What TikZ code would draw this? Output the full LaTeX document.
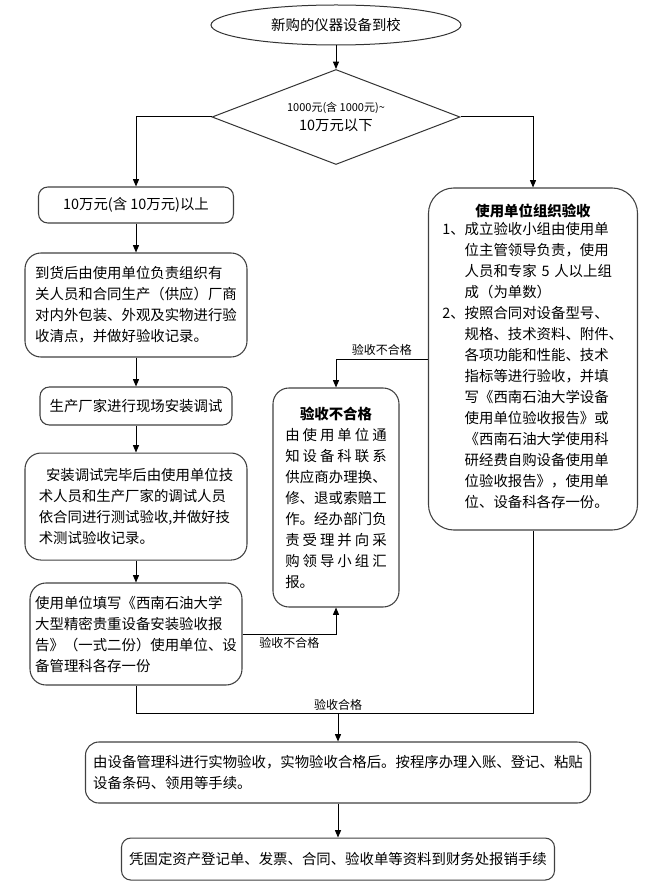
\documentclass[tikz,border=0pt]{standalone}
\usepackage{fontspec}
\newfontfamily\cjk{Noto Sans CJK SC}
\usetikzlibrary{shapes.geometric, positioning, arrows.meta}

\begin{document}
\begin{tikzpicture}[
    x=0.75pt, y=-0.75pt,
    on grid,
    font=\cjk\fontsize{10.8}{15.75}\selectfont,
    box/.style={draw=black!75, line width=0.8pt, rounded corners=7pt, inner sep=0pt, align=left},
    bigbox/.style={box, rounded corners=12pt},
    tag/.style={font=\cjk\fontsize{9}{11}\selectfont, inner sep=2pt},
    flow/.style={line width=0.75pt, -{Triangle[length=5.5pt, width=4.5pt]}},
    link/.style={line width=0.75pt}
]
    \useasboundingbox (0,0) rectangle (669,891);

    % Start and decision
    \node[draw=black!80, line width=0.75pt, ellipse, minimum width=187.5pt, minimum height=30pt, inner sep=0pt] (arrive) at (336,25) {新购的仪器设备到校};
    \node[draw=black!80, line width=0.75pt, diamond, aspect=2.6, minimum width=186pt, minimum height=71.25pt, inner sep=0pt, align=center] (price) at (336,117)
        {{\fontsize{8.25}{12}\selectfont 1000元(含 1000元)\textasciitilde}\\[-1pt]10万元以下};

    % Left column: 10 万元以上
    \node[box, minimum width=146.25pt, minimum height=27pt] (large) at (136,205) {10万元(含 10万元)以上};
    \node[bigbox, minimum width=166.5pt, minimum height=78pt] (unpack) [below=75pt of large]
        {到货后由使用单位负责组织有\\关人员和合同生产（供应）厂商\\对内外包装、外观及实物进行验\\收清点，并做好验收记录。};
    \node[box, minimum width=144pt, minimum height=28.5pt] (install) [below=75.75pt of unpack] {生产厂家进行现场安装调试};
    \node[bigbox, minimum width=166.5pt, minimum height=80.25pt] (test) [below=75.4pt of install]
        {\hspace*{0.5em}安装调试完毕后由使用单位技\\术人员和生产厂家的调试人员\\依合同进行测试验收,并做好技\\术测试验收记录。};
    \node[bigbox, minimum width=159pt, minimum height=76.5pt] (report) [below=95.6pt of test]
        {使用单位填写《西南石油大学\\大型精密贵重设备安装验收报\\告》（一式二份）使用单位、设\\备管理科各存一份};

    % Right column: 使用单位组织验收
    \node[box, rounded corners=19pt, minimum width=156.75pt, minimum height=256.5pt, text width=136pt] (org) at (533,359) {%
        {\centering\bfseries 使用单位组织验收\par}%
        \noindent\begin{tabular}{@{}l@{}l@{}}
        1、& 成立验收小组由使用单\\
           & 位主管领导负责，使用\\
           & 人员和专家 5 人以上组\\
           & 成（为单数）\\
        2、& 按照合同对设备型号、\\
           & 规格、技术资料、附件、\\
           & 各项功能和性能、技术\\
           & 指标等进行验收，并填\\
           & 写《西南石油大学设备\\
           & 使用单位验收报告》或\\
           & 《西南石油大学使用科\\
           & 研经费自购设备使用单\\
           & 位验收报告》，使用单\\
           & 位、设备科各存一份。
        \end{tabular}};

    % Middle: 验收不合格
    \node[bigbox, align=justify, minimum width=94.5pt, minimum height=164.25pt, text width=76pt] (fail) at (336,497.5) {%
        \XeTeXlinebreaklocale "zh"\XeTeXlinebreakskip=0pt plus 3pt
        {\centering\bfseries 验收不合格\par}%
        由使用单位通\linebreak 知设备科联系\linebreak 供应商办理换、\linebreak 修、退或索赔工\linebreak
        作。经办部门负\linebreak 责受理并向采\linebreak 购领导小组汇\linebreak 报。};

    % Bottom
    \node[box, rounded corners=10pt, minimum width=378.75pt, minimum height=45.75pt] (asset) at (338,772.5)
        {由设备管理科进行实物验收，实物验收合格后。按程序办理入账、登记、粘贴\\设备条码、领用等手续。};
    \node[box, minimum width=324.75pt, minimum height=31.5pt] (claim) [below=64.9pt of asset]
        {凭固定资产登记单、发票、合同、验收单等资料到财务处报销手续};

    \coordinate[label={[tag]above:验收合格}] (pass) at (338,713);

    % Connectors
    \draw[flow] (arrive) -- (price);
    \draw[flow] (price.west) -| (large.north);
    \draw[flow] (price.east) -| (org.north);
    \draw[flow] (large) -- (unpack);
    \draw[flow] (unpack) -- (install);
    \draw[flow] (install) -- (test);
    \draw[flow] (test) -- (report);
    \draw[flow] (org.west) -| node[tag, above, pos=0.25] {验收不合格} (fail.north);
    \draw[flow] (report.east) -| node[tag, below, pos=0.25] {验收不合格} (fail.south);
    \draw[link] (report.south) |- (org.south |- pass) -- (org.south);
    \draw[flow] (pass) -- (asset);
    \draw[flow] (asset) -- (claim);
\end{tikzpicture}
\end{document}
